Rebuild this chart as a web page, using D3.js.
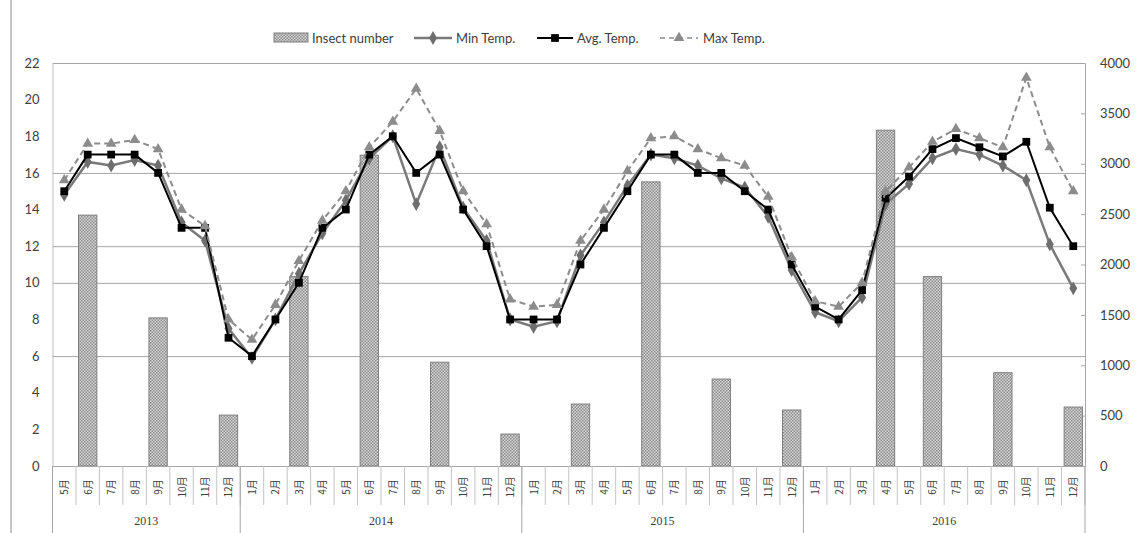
<!DOCTYPE html>
<html><head><meta charset="utf-8">
<script src="https://cdn.jsdelivr.net/npm/d3@7"></script>
<style>
html,body{margin:0;padding:0;background:#fff;}
svg{display:block;}
</style></head>
<body>
<svg id="chart" width="1137" height="533"></svg>
<script>
const months = ["5月","6月","7月","8月","9月","10月","11月","12月",
  "1月","2月","3月","4月","5月","6月","7月","8月","9月","10月","11月","12月",
  "1月","2月","3月","4月","5月","6月","7月","8月","9月","10月","11月","12月",
  "1月","2月","3月","4月","5月","6月","7月","8月","9月","10月","11月","12月"];
const years = ["2013","2014","2015","2016"];
const yearCounts = [8,12,12,12];
const insect = [null,2490,null,null,1470,null,null,505,
  null,null,1880,null,null,3085,null,null,1030,null,null,317,
  null,null,615,null,null,2820,null,null,863,null,null,556,
  null,null,null,3333,null,1880,null,null,926,null,null,585];
const minTemp = [14.8,16.6,16.4,16.7,16.4,13.3,12.3,7.5,
  5.9,8.0,10.5,12.7,14.5,16.8,18.0,14.3,17.4,14.1,12.3,8.0,
  7.6,7.9,11.5,13.3,15.3,17.0,16.8,16.4,15.7,15.2,13.6,10.7,
  8.4,7.9,9.2,14.3,15.4,16.8,17.3,17.0,16.4,15.6,12.1,9.7];
const avgTemp = [15,17,17,17,16,13,13,7,
  6,8,10,13,14,17,18,16,17,14,12,8,
  8,8,11,13,15,17,17,16,16,15,14,11,
  8.7,8,9.6,14.6,15.8,17.3,17.9,17.4,16.9,17.7,14.1,12];
const maxTemp = [15.6,17.6,17.6,17.8,17.3,14.0,13.1,8.0,
  6.9,8.8,11.2,13.4,15.0,17.4,18.8,20.6,18.3,15.0,13.2,9.1,
  8.7,8.8,12.3,14.0,16.1,17.9,18.0,17.3,16.8,16.4,14.7,11.4,
  9.0,8.7,10.0,15.0,16.3,17.7,18.4,17.9,17.4,21.2,17.4,15.0];
const leftTicks = [0,2,4,6,8,10,12,14,16,18,20,22];
const rightTicks = [0,500,1000,1500,2000,2500,3000,3500,4000];
const gridValues = [22,16,12,10,6];

const svg = d3.select("#chart");
const L = 52.5, R = 1085, T = 63, B = 466;
const x = d3.scaleBand().domain(d3.range(months.length)).range([L, R]).paddingInner(0.22).paddingOuter(0.11);
const step = x.step();
const cx = i => x(i) + x.bandwidth()/2;
const yL = d3.scaleLinear().domain([0,22]).range([B,T]);
const yR = d3.scaleLinear().domain([0,4000]).range([B,T]);

// pattern
const defs = svg.append("defs");
const pat = defs.append("pattern").attr("id","hatch").attr("patternUnits","userSpaceOnUse")
  .attr("width",3).attr("height",3);
pat.append("rect").attr("width",3).attr("height",3).attr("fill","#d9d9d9");
pat.append("rect").attr("x",0).attr("y",0).attr("width",1.5).attr("height",1.5).attr("fill","#8a8a8a");
pat.append("rect").attr("x",1.5).attr("y",1.5).attr("width",1.5).attr("height",1.5).attr("fill","#8a8a8a");

// outer left border
svg.append("line").attr("x1",11).attr("x2",11).attr("y1",0).attr("y2",533).attr("stroke","#8c8c8c");

// grid
svg.append("g").selectAll("line").data(gridValues).join("line")
  .attr("x1",L).attr("x2",R).attr("y1",d=>yL(d)+0.5).attr("y2",d=>yL(d)+0.5)
  .attr("stroke","#a6a6a6").attr("stroke-width",1);

// left axis
const gl = svg.append("g").attr("transform",`translate(${L},0)`)
  .call(d3.axisLeft(yL).tickValues(leftTicks).tickSize(0).tickPadding(13));
gl.select(".domain").attr("stroke","#bfbfbf");
gl.selectAll("text").attr("font-family","Lato, sans-serif").attr("font-size",13).attr("fill","#404040");

// right axis
const gr = svg.append("g").attr("transform",`translate(${R},0)`)
  .call(d3.axisRight(yR).tickValues(rightTicks).tickFormat(d3.format("d")).tickSize(-4).tickPadding(15));
gr.select(".domain").attr("stroke","#a6a6a6");
gr.selectAll(".tick line").attr("stroke","#a6a6a6");
gr.selectAll("text").attr("font-family","Lato, sans-serif").attr("font-size",13).attr("fill","#404040");

// bars
svg.append("g").selectAll("rect").data(insect.map((v,i)=>({v,i})).filter(d=>d.v!=null)).join("rect")
  .attr("x",d=>x(d.i)).attr("width",x.bandwidth())
  .attr("y",d=>yR(d.v)).attr("height",d=>B-yR(d.v))
  .attr("fill","url(#hatch)").attr("stroke","#7f7f7f").attr("stroke-width",1);

// category axis
const cat = svg.append("g");
cat.append("line").attr("x1",L).attr("x2",R).attr("y1",B+0.5).attr("y2",B+0.5).attr("stroke","#a6a6a6");
cat.selectAll("line.m").data(d3.range(months.length+1)).join("line").attr("class","m")
  .attr("x1",k=>L+step*k).attr("x2",k=>L+step*k).attr("y1",B).attr("y2",505)
  .attr("stroke","#c4c4c4");
let acc=[0]; yearCounts.forEach(c=>acc.push(acc[acc.length-1]+c));
cat.selectAll("line.y").data(acc).join("line").attr("class","y")
  .attr("x1",k=>L+step*k).attr("x2",k=>L+step*k).attr("y1",B).attr("y2",533)
  .attr("stroke","#a6a6a6");
cat.selectAll("text.m").data(months).join("text").attr("class","m")
  .attr("transform",(d,i)=>`translate(${cx(i)+4},487) rotate(-90)`)
  .attr("text-anchor","middle").attr("font-family","'Noto Sans CJK SC', sans-serif")
  .attr("font-size",10).attr("fill","#404040").text(d=>d);
cat.selectAll("text.y").data(years).join("text").attr("class","y")
  .attr("x",(d,i)=>L+step*(acc[i]+acc[i+1])/2).attr("y",525)
  .attr("text-anchor","middle").attr("font-family","'Liberation Serif', serif")
  .attr("font-size",12).attr("fill","#404040").text(d=>d);

// lines
const line = yv => d3.line().x((d,i)=>cx(i)).y(d=>yL(d))(yv);
const diamond = d3.symbol().type(d3.symbolDiamond).size(55)();
const square = d3.symbol().type(d3.symbolSquare).size(60)();
const tri = d3.symbol().type(d3.symbolTriangle).size(50)();

svg.append("path").attr("d",line(minTemp)).attr("fill","none").attr("stroke","#7a7a7a").attr("stroke-width",2.5);
svg.append("g").selectAll("path").data(minTemp).join("path")
  .attr("transform",(d,i)=>`translate(${cx(i)},${yL(d)})`).attr("d",diamond).attr("fill","#6e6e6e");

svg.append("path").attr("d",line(avgTemp)).attr("fill","none").attr("stroke","#000").attr("stroke-width",2);
svg.append("g").selectAll("path").data(avgTemp).join("path")
  .attr("transform",(d,i)=>`translate(${cx(i)},${yL(d)})`).attr("d",square).attr("fill","#000");

svg.append("path").attr("d",line(maxTemp)).attr("fill","none").attr("stroke","#8c8c8c").attr("stroke-width",2).attr("stroke-dasharray","6,4");
svg.append("g").selectAll("path").data(maxTemp).join("path")
  .attr("transform",(d,i)=>`translate(${cx(i)},${yL(d)})`).attr("d",tri).attr("fill","#8c8c8c");

// legend
const lg = svg.append("g").attr("font-family","Lato, sans-serif").attr("font-size",13).attr("fill","#404040");
lg.append("rect").attr("x",274).attr("y",33).attr("width",34).attr("height",9).attr("fill","url(#hatch)").attr("stroke","#7f7f7f");
lg.append("text").attr("x",312).attr("y",43).text("Insect number");
lg.append("line").attr("x1",414).attr("x2",452).attr("y1",38).attr("y2",38).attr("stroke","#7a7a7a").attr("stroke-width",2.5);
lg.append("path").attr("transform","translate(433,38)").attr("d",diamond).attr("fill","#6e6e6e");
lg.append("text").attr("x",456).attr("y",43).text("Min Temp.");
lg.append("line").attr("x1",537).attr("x2",573).attr("y1",38).attr("y2",38).attr("stroke","#000").attr("stroke-width",2);
lg.append("path").attr("transform","translate(555,38)").attr("d",square).attr("fill","#000");
lg.append("text").attr("x",577).attr("y",43).text("Avg. Temp.");
lg.append("line").attr("x1",660).attr("x2",698).attr("y1",38).attr("y2",38).attr("stroke","#8c8c8c").attr("stroke-width",1.5).attr("stroke-dasharray","5,4");
lg.append("path").attr("transform","translate(679,38)").attr("d",tri).attr("fill","#8c8c8c");
lg.append("text").attr("x",703).attr("y",43).text("Max Temp.");
</script>
</body></html>
